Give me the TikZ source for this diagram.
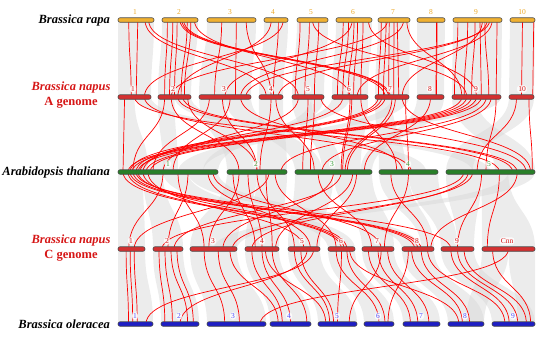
\documentclass[tikz,border=0pt]{standalone}
\usepackage{fontspec}
\setmainfont{Liberation Serif}
\usetikzlibrary{calc}

\definecolor{rapacol}{RGB}{240,176,48}
\definecolor{rapatxt}{RGB}{236,168,40}
\definecolor{napuscol}{RGB}{212,48,48}
\definecolor{napustxt}{RGB}{214,22,22}
\definecolor{arabcol}{RGB}{40,128,40}
\definecolor{arabtxt}{RGB}{60,160,60}
\definecolor{oleracol}{RGB}{30,30,196}
\definecolor{oleratxt}{RGB}{80,80,255}

\pgfdeclarelayer{ribbons}
\pgfdeclarelayer{links}
\pgfsetlayers{ribbons,links,main}

\tikzset{
  chr/.style={draw=black!70, line width=.6pt, rounded corners=2pt,
    minimum height=4.5pt, inner sep=0pt, outer sep=0pt},
  num/.style={font=\fontsize{7.5}{8}\selectfont, inner sep=1.2pt, rounded corners=3pt},
  bubble/.style={fill=white, fill opacity=.85, text opacity=1},
  rib/.style={fill=gray!30, fill opacity=.5},
  lnk/.style={red, line width=.7pt},
  species/.style={font=\fontsize{12.5}{15}\selectfont\bfseries\itshape, align=center, inner sep=1pt}
}

% grey block between two chromosomes
\newcommand\block[6]{\fill[rib] ($(#1.west)!#2!(#1.east)$) .. controls +(0,38) and +(0,-38) .. ($(#4.west)!#5!(#4.east)$) -- ($(#4.west)!#6!(#4.east)$) .. controls +(0,-38) and +(0,38) .. ($(#1.west)!#3!(#1.east)$) -- cycle;}
% red gene pair
\newcommand\syn[4]{\draw[lnk] ($(#1.west)!#2!(#1.east)$) .. controls +(0,38) and +(0,-38) .. ($(#3.west)!#4!(#3.east)$);}

\begin{document}
\begin{tikzpicture}[x=1pt, y=-1pt]
\useasboundingbox (0,0) rectangle (550,341);

% species
\node[species, anchor=east] (rapa) at (111,20) {Brassica rapa};
\node[species, text=napustxt] (napusA) at (71,95) {Brassica napus\\\upshape A genome};
\node[species, anchor=east] (arab) at (111,172) {Arabidopsis thaliana};
\node[species, text=napustxt] (napusC) at (71,248) {Brassica napus\\\upshape C genome};
\node[species, anchor=east] (olera) at (111,324) {Brassica oleracea};

% chromosomes
\foreach \n/\a/\b/\l/\lx in {r1/118/154/1/135, r2/162/198/2/179, r3/207/256/3/230, r4/264/288/4/273,
  r5/297/328/5/311, r6/336/372/6/353, r7/378/410/7/393, r8/417/445/8/431, r9/453/502/9/476, r10/510/535/10/522}
{
  \node[chr, fill=rapacol, minimum width={(\b-\a)*1pt}] (\n) at ({(\a+\b)/2},20) {};
  \node[num, text=rapatxt] (l\n) at (\lx,12) {\l};
}
\foreach \n/\a/\b/\l/\lx in {a1/118/151/1/133, a2/158/191/2/173, a3/199/251/3/224, a4/259/283/4/271,
  a5/292/324/5/308, a6/332/368/6/349, a7/375/409/7/390, a8/417/444/8/430, a9/452/501/9/476, a10/509/534/10/522}
{
  \node[chr, fill=napuscol, minimum width={(\b-\a)*1pt}] (\n) at ({(\a+\b)/2},97) {};
  \node[num, bubble, text=napustxt] (l\n) at (\lx,89) {\l};
}
\foreach \n/\a/\b/\l/\lx in {t1/118/218/1/168, t2/227/287/2/256, t3/295/372/3/332, t4/379/438/4/408, t5/446/535/5/489}
{
  \node[chr, fill=arabcol, minimum width={(\b-\a)*1pt}] (\n) at ({(\a+\b)/2},172) {};
  \node[num, bubble, text=arabtxt] (l\n) at (\lx,164) {\l};
}
\foreach \n/\a/\b/\l/\lx in {c1/118/145/1/131, c2/153/183/2/167, c3/190/237/3/213, c4/245/279/4/262,
  c5/288/320/5/302, c6/328/355/6/341, c7/362/394/7/377, c8/402/434/8/417, c9/441/474/9/457, cnn/482/535/Cnn/507}
{
  \node[chr, fill=napuscol, minimum width={(\b-\a)*1pt}] (\n) at ({(\a+\b)/2},249) {};
  \node[num, bubble, text=napustxt] (l\n) at (\lx,241) {\l};
}
\foreach \n/\a/\b/\l/\lx in {o1/118/153/1/135, o2/161/199/2/179, o3/207/266/3/233, o4/270/311/4/289,
  o5/318/357/5/337, o6/364/394/6/378, o7/403/440/7/421, o8/448/484/8/465, o9/492/535/9/513}
{
  \node[chr, fill=oleracol, minimum width={(\b-\a)*1pt}] (\n) at ({(\a+\b)/2},324) {};
  \node[num, bubble, text=oleratxt] (l\n) at (\lx,316) {\l};
}

% grey collinear blocks
\begin{pgfonlayer}{ribbons}
\foreach \i in {1,...,10} {\block{r\i}{0}{1}{a\i}{0}{1}}
\foreach \i in {1,...,9} {\block{c\i}{0}{1}{o\i}{0}{1}}
\block{cnn}{0}{.5}{o8}{.5}{1}
\block{cnn}{.5}{1}{o9}{.6}{1}
\foreach \s/\f/\g/\d/\h/\k in {a1/0/.5/t1/0/.3, a1/.5/1/t5/.3/.5, a2/0/.5/t1/.45/.6, a2/.5/1/t4/.5/.8,
  a3/0/.5/t2/0/.5, a3/.5/1/t3/0/.35, a4/0/1/t2/.5/1, a5/0/.6/t3/.35/.6, a5/.6/1/t1/.85/1,
  a6/0/.5/t1/.3/.45, a6/.5/1/t3/.6/.85, a7/0/.5/t4/0/.45, a7/.5/1/t1/.6/.85, a8/0/1/t3/.85/1,
  a9/0/.5/t5/.55/1, a9/.5/1/t1/.1/.25, a10/0/1/t5/0/.3,
  t1/0/.25/c1/0/1, t1/.25/.45/c2/0/1, t1/.45/.7/c6/0/1, t1/.7/1/c8/0/.6, t2/0/.5/c3/0/1,
  t2/.5/1/c4/0/1, t3/0/.5/c5/0/1, t3/.5/1/c7/0/1, t4/0/.5/c8/.6/1, t4/.5/1/c9/0/.5,
  t5/0/.4/c9/.5/1, t5/.4/.7/cnn/0/1, t5/.7/1/c3/.5/1}
  {\block{\s}{\f}{\g}{\d}{\h}{\k}}
\end{pgfonlayer}

% red gene pairs
\begin{pgfonlayer}{links}
\foreach \s/\f/\d/\g in {r1/.3/a1/.4, r1/.55/a1/.55, r1/.75/a4/.3, r1/.85/a5/.2,
  r2/.15/a2/.2, r2/.3/a2/.35, r2/.42/a2/.5, r2/.5/a7/.3, r2/.55/a7/.4, r2/.6/a7/.45, r2/.7/a2/.7,
  r2/.8/a2/.8, r2/.9/a6/.5, r3/.3/a3/.3, r3/.6/a3/.7, r3/.8/a4/.5, r4/.3/a2/.6, r4/.6/a4/.6,
  r4/.8/a1/.8, r5/.1/a5/.1, r5/.4/a5/.4, r5/.7/a5/.7, r5/.5/a9/.3, r6/.2/a6/.15, r6/.35/a6/.3,
  r6/.5/a6/.45, r6/.6/a6/.6, r6/.75/a6/.8, r6/.45/a3/.5, r6/.9/a9/.5, r7/.1/a7/.1, r7/.25/a7/.25,
  r7/.35/a7/.4, r7/.5/a7/.55, r7/.6/a7/.7, r7/.3/a2/.4, r7/.8/a3/.8, r7/.9/a9/.2, r8/.7/a8/.7,
  r8/.72/a8/.72, r9/.1/a9/.05, r9/.3/a9/.25, r9/.45/a9/.4, r9/.55/a9/.6, r9/.65/a9/.75,
  r9/.7/a4/.8, r9/.75/a3/.9, r9/.8/a6/.7, r9/.9/a9/.9, r9/.6/a7/.8, r10/.5/a10/.5, r10/.95/a10/.95,
  a1/.2/t1/.05, a1/.5/t5/.6, a1/.8/t4/.55, a2/.2/t1/.15, a2/.4/t2/.2, a2/.6/t5/.75, a2/.75/t5/.8,
  a2/.9/t2/.5, a3/.2/t1/.35, a3/.45/t2/.5, a3/.6/t1/.55, a3/.8/t4/.4, a4/.5/t2/.55, a4/.7/t3/.25,
  a5/.2/t1/.45, a5/.5/t3/.1, a5/.7/t3/.2, a5/.9/t5/.9, a6/.3/t1/.25, a6/.5/t3/.6, a6/.55/t3/.62,
  a6/.8/t4/.3, a7/.1/t1/.12, a7/.2/t1/.18, a7/.3/t1/.22, a7/.5/t3/.65, a7/.6/t3/.68, a7/.8/t5/.95,
  a7/.9/t4/.5, a8/.5/t3/.9, a9/.2/t1/.1, a9/.3/t1/.14, a9/.4/t1/.2, a9/.5/t1/.28, a9/.6/t1/.32,
  a9/.7/t2/.9, a9/.8/t3/.35, a9/.9/t5/.45, a10/.3/t5/.35, a10/.8/t5/.97,
  t1/.05/c6/.5, t1/.1/c6/.6, t1/.12/c8/.4, t1/.15/c8/.5, t1/.18/c9/.3, t1/.2/c8/.6, t1/.25/c6/.7,
  t1/.3/c5/.5, t1/.45/c1/.4, t1/.6/c3/.3, t1/.7/c2/.5, t1/.9/c5/.7, t1/.95/c7/.6, t2/.1/c4/.3,
  t2/.2/c3/.4, t2/.35/c4/.5, t2/.5/c5/.2, t2/.65/c4/.8, t2/.7/c1/.6, t2/.8/c6/.3, t3/.3/c7/.3,
  t3/.5/c3/.7, t3/.6/c2/.7, t3/.75/c4/.9, t3/.8/c5/.9, t4/.5/c7/.7, t4/.2/c8/.8, t5/.2/c2/.3,
  t5/.3/c3/.9, t5/.4/c9/.5, t5/.6/cnn/.1, t5/.25/c4/.2, t5/.8/c8/.9,
  c1/.3/o1/.3, c1/.45/o1/.42, c1/.6/o1/.55, c2/.2/o2/.1, c2/.4/o2/.3, c2/.6/o2/.7, c2/.8/o2/.85,
  c3/.3/o3/.3, c3/.6/o3/.55, c3/.85/o4/.2, c4/.2/o4/.3, c4/.5/o4/.5, c4/.8/o4/.9, c4/.6/o5/.2,
  c5/.2/o5/.3, c5/.4/o5/.4, c5/.6/o2/.5, c5/.8/o1/.8, c6/.3/o6/.5, c6/.5/o5/.5, c6/.7/o6/.7,
  c6/.8/o8/.3, c7/.2/o7/.2, c7/.5/o7/.4, c7/.8/o7/.7, c7/.6/o5/.8, c8/.3/o8/.4, c8/.6/o8/.6,
  c8/.8/o9/.3, c8/.2/o6/.8, c9/.3/o9/.4, c9/.5/o9/.6, c9/.7/o9/.8, cnn/.2/o9/.9, cnn/.5/o3/.9}
  {\syn{\s}{\f}{\d}{\g}}
\end{pgfonlayer}
\end{tikzpicture}
\end{document}
